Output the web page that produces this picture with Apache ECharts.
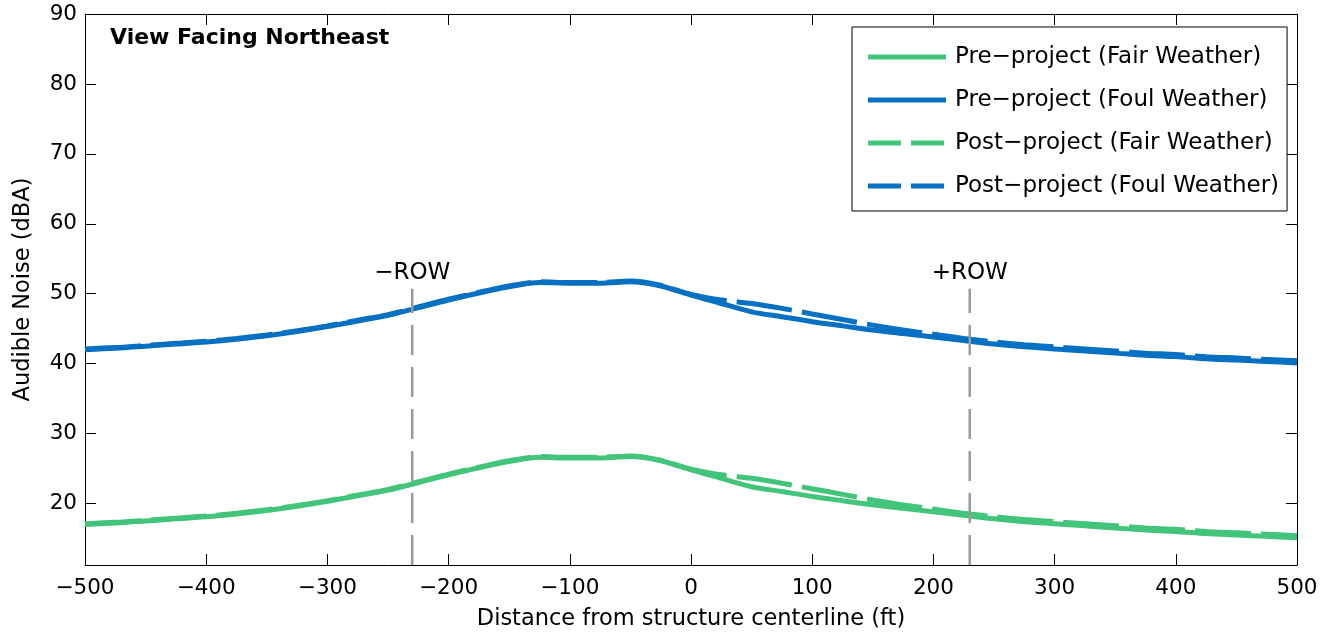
<!DOCTYPE html>
<html>
<head>
<meta charset="utf-8">
<style>
  html, body { margin: 0; padding: 0; background: #fff; }
  #chart { width: 1333px; height: 636px; }
</style>
<script src="https://cdn.jsdelivr.net/npm/echarts@6/dist/echarts.min.js"></script>
</head>
<body>
<div id="chart"></div>
<script>
// Distance from the structure centerline (ft), sampled every 25 ft
const distance = [
  -500, -475, -450, -425, -400, -375, -350, -325, -300, -275,
  -250, -225, -200, -175, -150, -125, -100, -75, -50, -25,
  0, 25, 50, 75, 100, 125, 150, 175, 200, 225,
  250, 275, 300, 325, 350, 375, 400, 425, 450, 475, 500
];

// Audible noise levels (dBA)
const preFair = [
  17.0, 17.2, 17.5, 17.8, 18.1, 18.5, 19.0, 19.6, 20.3, 21.1,
  21.9, 23.0, 24.1, 25.1, 26.0, 26.6, 26.5, 26.5, 26.7, 26.1,
  24.8, 23.6, 22.4, 21.7, 21.0, 20.4, 19.8, 19.3, 18.8, 18.3,
  17.8, 17.4, 17.1, 16.8, 16.5, 16.2, 16.0, 15.7, 15.5, 15.3, 15.1
];
const preFoul = [
  42.0, 42.2, 42.5, 42.8, 43.1, 43.5, 44.0, 44.6, 45.3, 46.1,
  46.9, 48.0, 49.1, 50.1, 51.0, 51.6, 51.5, 51.5, 51.7, 51.1,
  49.8, 48.6, 47.4, 46.7, 46.0, 45.4, 44.8, 44.3, 43.8, 43.3,
  42.8, 42.4, 42.1, 41.8, 41.5, 41.2, 41.0, 40.7, 40.5, 40.3, 40.1
];
const postFair = [
  17.1, 17.3, 17.6, 17.9, 18.2, 18.6, 19.1, 19.7, 20.4, 21.2,
  22.0, 23.1, 24.2, 25.2, 26.1, 26.7, 26.6, 26.6, 26.8, 26.2,
  24.9, 24.1, 23.6, 22.9, 22.1, 21.3, 20.5, 19.8, 19.2, 18.6,
  18.1, 17.7, 17.4, 17.1, 16.8, 16.5, 16.3, 16.0, 15.8, 15.6, 15.4
];
const postFoul = [
  42.1, 42.3, 42.6, 42.9, 43.2, 43.6, 44.1, 44.7, 45.4, 46.2,
  47.0, 48.1, 49.2, 50.2, 51.1, 51.7, 51.6, 51.6, 51.8, 51.2,
  49.9, 49.1, 48.6, 47.9, 47.1, 46.3, 45.5, 44.8, 44.2, 43.6,
  43.1, 42.7, 42.4, 42.1, 41.8, 41.5, 41.3, 41.0, 40.8, 40.6, 40.4
];

const seriesNames = [
  'Pre\u2212project (Fair Weather)',
  'Pre\u2212project (Foul Weather)',
  'Post\u2212project (Fair Weather)',
  'Post\u2212project (Foul Weather)'
];

// Right-of-way edges
const rowEdges = [-230, 230];
const rowLabels = ['\u2212ROW', '+ROW'];
const rowTop = 50.7;

// Axis ranges and ticks
const xMin = -500, xMax = 500, xStep = 100;
const yMin = 11.2, yMax = 90;
const yTicks = [20, 30, 40, 50, 60, 70, 80, 90];

const FONT = 'DejaVu Sans';
const GREEN = '#42C47B';
const BLUE = '#0670C2';
const ROW_GREY = '#9a9a9a';

// Legend swatches: a solid bar and a two-dash bar
const ICON_SOLID = 'path://M0,0 H78 V5 H0 Z';
const ICON_DASHED = 'path://M0,0 H33 V5 H0 Z M43,0 H76 V5 H43 Z M78,0 H78 V5 H78 Z';

const pairs = (ys) => distance.map((x, i) => [x, ys[i]]);
const fmtNum = (v) => (v < 0 ? '\u2212' + Math.abs(v) : String(v));

const axisLine = { show: true, onZero: false, lineStyle: { color: '#000', width: 1 } };
const tick = { show: true, inside: true, length: 11, lineStyle: { color: '#000', width: 1 } };

function curve(name, data, color, dashed) {
  return {
    name: name,
    type: 'line',
    data: pairs(data),
    smooth: 0.3,
    symbol: 'none',
    showSymbol: false,
    lineStyle: { color: color, width: 5, type: dashed ? [56, 10] : 'solid', cap: 'butt' },
    itemStyle: { color: color },
    emphasis: { disabled: true },
    z: dashed ? 3 : 2
  };
}

const series = [
  curve(seriesNames[0], preFair, GREEN, false),
  curve(seriesNames[1], preFoul, BLUE, false),
  curve(seriesNames[2], postFair, GREEN, true),
  curve(seriesNames[3], postFoul, BLUE, true)
];

rowEdges.forEach((x, i) => {
  series.push({
    name: 'row' + i,
    type: 'line',
    data: [[x, yMin], [x, rowTop]],
    symbol: 'none',
    lineStyle: { color: ROW_GREY, width: 2.5, type: [30, 12] },
    emphasis: { disabled: true },
    z: 5
  });
  series.push({
    name: 'rowLabel' + i,
    type: 'scatter',
    data: [[x, rowTop]],
    symbolSize: 0,
    itemStyle: { color: '#000' },
    label: {
      show: true,
      position: 'top',
      distance: 4,
      formatter: rowLabels[i],
      fontFamily: FONT,
      fontSize: 23,
      color: '#000',
      opacity: 1
    },
    emphasis: { disabled: true },
    z: 6
  });
});

const legendItem = (name, color, dashed) => ({
  name: name,
  icon: dashed ? ICON_DASHED : ICON_SOLID,
  itemStyle: { color: color }
});

const chart = echarts.init(document.getElementById('chart'), null, { renderer: 'canvas' });
chart.setOption({
  animation: false,
  backgroundColor: '#fff',
  grid: { left: 85, right: 36, top: 14, bottom: 70 },
  title: {
    text: 'View Facing Northeast',
    left: 110,
    top: 27,
    padding: 0,
    textStyle: { fontFamily: FONT, fontWeight: 'bold', fontSize: 22, color: '#000' }
  },
  legend: {
    orient: 'vertical',
    left: 852,
    top: 27,
    padding: [17, 8, 12, 16],
    itemGap: 17,
    itemWidth: 78,
    itemHeight: 5,
    backgroundColor: '#fff',
    borderColor: '#000',
    borderWidth: 1,
    borderRadius: 0,
    selectedMode: false,
    textStyle: { fontFamily: FONT, fontSize: 23, color: '#000', lineHeight: 26, padding: [0, 0, 0, 4] },
    data: [
      legendItem(seriesNames[0], GREEN, false),
      legendItem(seriesNames[1], BLUE, false),
      legendItem(seriesNames[2], GREEN, true),
      legendItem(seriesNames[3], BLUE, true)
    ]
  },
  xAxis: [
    {
      type: 'value', min: xMin, max: xMax, interval: xStep, position: 'bottom',
      name: 'Distance from structure centerline (ft)',
      nameLocation: 'middle', nameGap: 43,
      nameTextStyle: { fontFamily: FONT, fontSize: 22.5, color: '#000' },
      axisLine: axisLine, axisTick: tick,
      axisLabel: { margin: 12, fontFamily: FONT, fontSize: 21.5, color: '#000', formatter: fmtNum },
      splitLine: { show: false }
    },
    {
      type: 'value', min: xMin, max: xMax, interval: xStep, position: 'top',
      axisLine: axisLine, axisTick: tick,
      axisLabel: { show: false }, splitLine: { show: false }
    }
  ],
  yAxis: [
    {
      type: 'value', min: yMin, max: yMax, position: 'left',
      name: 'Audible Noise (dBA)',
      nameLocation: 'middle', nameGap: 50,
      nameTextStyle: { fontFamily: FONT, fontSize: 22.5, color: '#000' },
      axisLine: axisLine,
      axisTick: Object.assign({ customValues: yTicks }, tick),
      axisLabel: { customValues: yTicks, margin: 8, fontFamily: FONT, fontSize: 21.5, color: '#000', formatter: fmtNum },
      splitLine: { show: false }
    },
    {
      type: 'value', min: yMin, max: yMax, position: 'right',
      axisLine: axisLine,
      axisTick: Object.assign({ customValues: yTicks }, tick),
      axisLabel: { show: false }, splitLine: { show: false }
    }
  ],
  series: series
});
</script>
</body>
</html>
